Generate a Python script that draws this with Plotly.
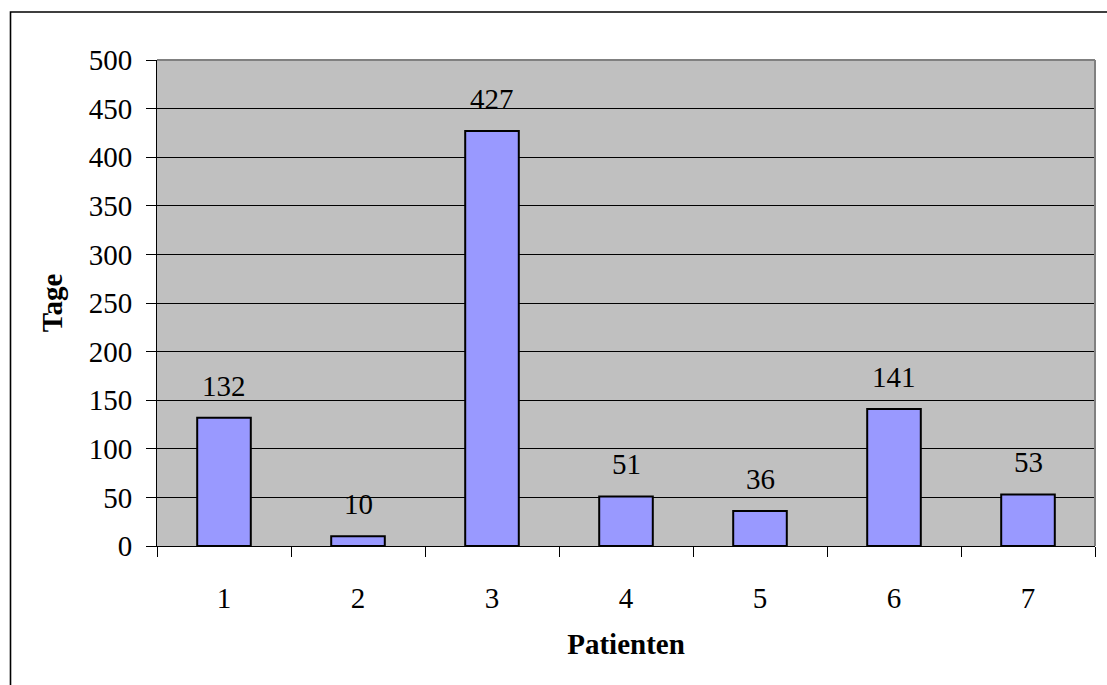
import plotly.graph_objects as go

patienten = ["1", "2", "3", "4", "5", "6", "7"]
tage = [132, 10, 427, 51, 36, 141, 53]
y_ticks = [0, 50, 100, 150, 200, 250, 300, 350, 400, 450, 500]

W, H = 1107, 685
L, R, T, B = 157, 12, 59.5, 139
FONT = "Liberation Serif, Times New Roman, serif"

fig = go.Figure()
fig.add_trace(go.Bar(
    x=patienten, y=tage,
    marker=dict(color="#9999FF", line=dict(color="black", width=2)),
    width=0.4,
    hoverinfo="skip",
))

# value labels above each bar (category index as x position)
for i, v in enumerate(tage):
    fig.add_annotation(x=i, y=v, text=str(v), showarrow=False,
                       yanchor="bottom", yshift=14,
                       font=dict(family=FONT, size=29, color="black"))

pw = W - L - R
ph = H - T - B
# outer chart frame (extends past right/bottom edges)
fig.add_shape(type="rect", xref="paper", yref="paper",
              x0=(10.5 - L) / pw, x1=(W + 20 - L) / pw,
              y0=-(B + 20) / ph,
              y1=1 + (T - 11.5) / ph,
              line=dict(color="black", width=1.6), layer="below")
# gray top and right edges of the plot area
fig.add_shape(type="line", xref="paper", yref="paper", x0=0, x1=1, y0=1, y1=1,
              line=dict(color="#808080", width=2), layer="above")
fig.add_shape(type="line", xref="paper", yref="paper", x0=1, x1=1, y0=0, y1=1,
              line=dict(color="#808080", width=2), layer="above")

fig.update_layout(
    width=W, height=H,
    margin=dict(l=L, r=R, t=T, b=B, autoexpand=False),
    paper_bgcolor="white",
    plot_bgcolor="#C0C0C0",
    showlegend=False,
    bargap=0.6,
    font=dict(family=FONT, size=29, color="black"),
)
fig.update_xaxes(
    type="category",
    range=[-0.5, len(patienten) - 0.5],
    tickson="boundaries",
    ticks="outside", ticklen=10, tickwidth=1, tickcolor="black",
    ticklabelstandoff=26,
    showline=True, linecolor="black", linewidth=1,
    showgrid=False,
    tickfont=dict(family=FONT, size=29),
    title=dict(text="<b>Patienten</b>", font=dict(family=FONT, size=29), standoff=20),
)
fig.update_yaxes(
    range=[0, 500],
    tickvals=y_ticks,
    ticks="outside", ticklen=10, tickwidth=1, tickcolor="black",
    ticklabelstandoff=8,
    showline=True, linecolor="black", linewidth=1,
    showgrid=True, gridcolor="black", gridwidth=1,
    zeroline=False,
    tickfont=dict(family=FONT, size=29),
    title=dict(text="<b>Tage</b>", font=dict(family=FONT, size=29), standoff=17),
)

fig.write_html("out.html")
